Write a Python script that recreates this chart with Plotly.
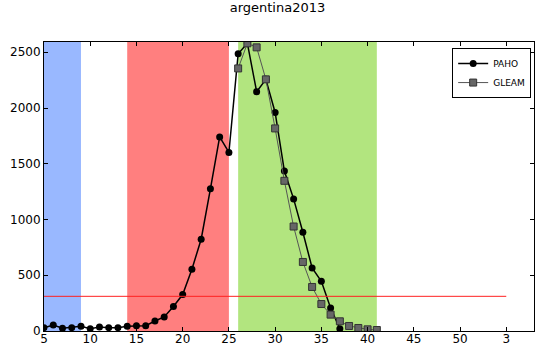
import plotly.graph_objects as go

paho_weeks = list(range(5, 38))
paho_cases = [30, 54, 24, 30, 42, 21, 36, 30, 30, 42, 48, 48, 90, 126, 219, 327, 554, 823,
              1275, 1741, 1601, 2487, 2580, 2146, 2257, 1960, 1434, 1185, 886, 566, 446, 206, 21]

gleam_weeks = list(range(26, 42))
gleam_cases = [2355, 2580, 2544, 2257, 1817, 1347, 937, 619, 395, 242, 147, 87, 45, 27, 15, 9]

threshold = 311
threshold_range = [5, 55]

spans = [(5, 9, "#99b8ff"), (14, 25, "#ff7f7f"), (26, 41, "#b2e57f")]

x_tickvals = [5, 10, 15, 20, 25, 30, 35, 40, 45, 50, 55]
x_ticktext = ["5", "10", "15", "20", "25", "30", "35", "40", "45", "50", "3"]
y_tickvals = [0, 500, 1000, 1500, 2000, 2500]

fig = go.Figure()

shapes = []
for x0, x1, c in spans:
    shapes.append(dict(type="rect", xref="x", yref="paper", x0=x0, x1=x1, y0=0, y1=1,
                       fillcolor=c, line=dict(width=0), layer="below"))
shapes.append(dict(type="line", xref="x", yref="y", x0=threshold_range[0], x1=threshold_range[1],
                   y0=threshold, y1=threshold, line=dict(color="#ff2020", width=1), layer="above"))

fig.add_trace(go.Scatter(x=paho_weeks, y=paho_cases, mode="lines+markers", name="PAHO",
                         line=dict(color="black", width=1.5),
                         marker=dict(symbol="circle", size=7, color="black")))
fig.add_trace(go.Scatter(x=gleam_weeks, y=gleam_cases, mode="lines+markers", name="GLEAM",
                         line=dict(color="#555555", width=1),
                         marker=dict(symbol="square", size=7, color="#666666",
                                     line=dict(color="#333333", width=1))))

axis_common = dict(showgrid=False, zeroline=False, showline=True, linecolor="black", linewidth=1,
                   mirror="ticks", ticks="inside", ticklen=4, tickcolor="black",
                   tickfont=dict(family="DejaVu Sans", size=12, color="black"))

fig.update_layout(
    width=555, height=347,
    margin=dict(l=44, r=21, t=42, b=16, autoexpand=False),
    paper_bgcolor="white", plot_bgcolor="white",
    title=dict(text="argentina2013", x=0.5, xanchor="center", y=0.98, yanchor="middle",
               font=dict(family="DejaVu Sans", size=13, color="black")),
    shapes=shapes,
    showlegend=True,
    legend=dict(x=0.833, y=0.979, xanchor="left", yanchor="top", bgcolor="white",
                bordercolor="black", borderwidth=1,
                font=dict(family="DejaVu Sans", size=9, color="black"),
                itemwidth=30, tracegroupgap=0),
    xaxis=dict(range=[5, 58], tickvals=x_tickvals, ticktext=x_ticktext,
               ticklabelstandoff=-3, **axis_common),
    yaxis=dict(range=[0, 2592], tickvals=y_tickvals, **axis_common),
)

fig.write_html("out.html", config={"displayModeBar": False},
               post_script="document.body.style.margin='0';document.body.style.padding='0';")
